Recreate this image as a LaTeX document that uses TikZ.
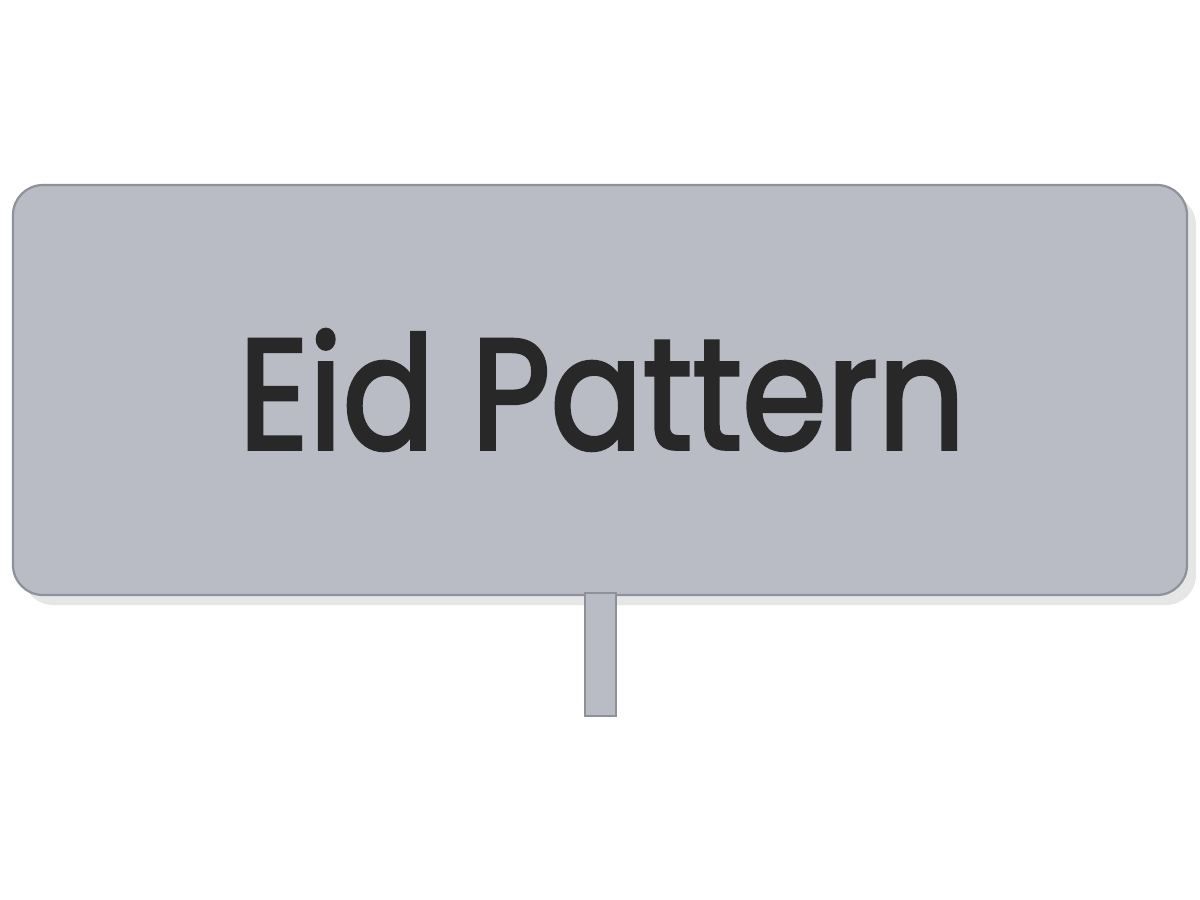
\documentclass[tikz,border=0pt]{standalone}
\usepackage{fontspec}
\setmainfont{Poppins}
\newfontfamily\titlefont{Poppins}[FakeBold=2.4]
\begin{document}
\begin{tikzpicture}[x=1pt,y=-1pt,
  boxfill/.style={fill=boxgrey, draw=edgegrey, line width=2.2pt},
  shadowfill/.style={fill=shadowgrey, draw=none}]
\definecolor{boxgrey}{HTML}{B9BCC4}
\definecolor{edgegrey}{HTML}{8E9199}
\definecolor{shadowgrey}{HTML}{E6E6E6}
\definecolor{textdark}{HTML}{282828}
\useasboundingbox (0,0) rectangle (1200,900);
\fill[white] (0,0) rectangle (1200,900);
% shadow
\fill[shadowgrey, rounded corners=30pt] (23,195) rectangle (1196,605);
% main box
\draw[boxfill, rounded corners=30pt] (13,185) rectangle (1187,595);
\coordinate (boxbottom) at (600,592);
% stem
\node[boxfill, minimum width=31pt, minimum height=123pt, inner sep=0pt, anchor=north, line width=2pt] (stem) at (boxbottom) {};
% title
\node[anchor=base, text=textdark, inner sep=0pt, xscale=0.87, font=\titlefont\fontsize{157}{157}\selectfont] (title) at (602,449) {Eid Pattern};
\end{tikzpicture}
\end{document}
